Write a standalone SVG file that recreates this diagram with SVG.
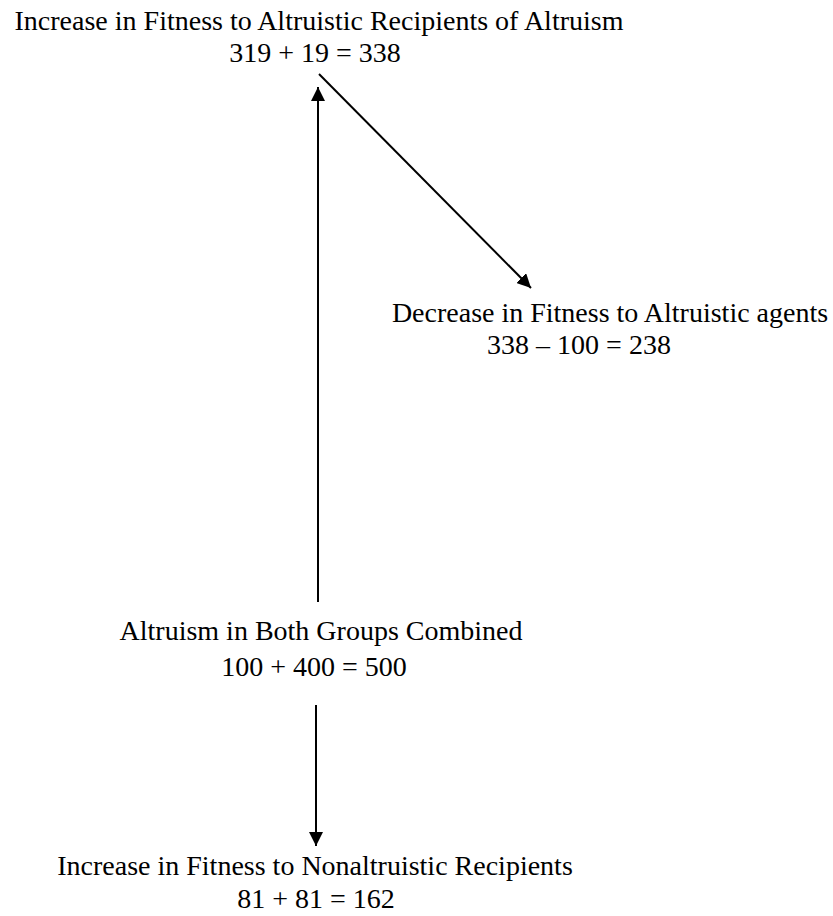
<svg xmlns="http://www.w3.org/2000/svg" width="833" height="916" viewBox="0 0 833 916">
<style>
text { font-family: "Liberation Serif", "Times New Roman", serif; font-size: 28px; fill: #000; text-anchor: middle; }
.conn { stroke: #000; stroke-width: 2; fill: none; }
</style>
<defs>
<marker id="ah" markerWidth="14" markerHeight="14" refX="14" refY="7" orient="auto" markerUnits="userSpaceOnUse">
<path d="M0,0 L14,7 L0,14 Z" fill="#000"/>
</marker>
</defs>
<rect width="833" height="916" fill="#fff"/>
<g id="node-altruistic-recipients">
<text x="319" y="30">Increase in Fitness to Altruistic Recipients of Altruism</text>
<text x="315" y="62">319 + 19 = 338</text>
</g>
<g id="node-altruistic-agents">
<text x="610" y="322">Decrease in Fitness to Altruistic agents</text>
<text x="579" y="354">338 – 100 = 238</text>
</g>
<g id="node-both-groups">
<text x="321" y="640">Altruism in Both Groups Combined</text>
<text x="314" y="676">100 + 400 = 500</text>
</g>
<g id="node-nonaltruistic">
<text x="315" y="875">Increase in Fitness to Nonaltruistic Recipients</text>
<text x="316" y="908">81 + 81 = 162</text>
</g>
<g id="connectors">
<line class="conn" x1="318" y1="602" x2="318" y2="87" marker-end="url(#ah)"/>
<line class="conn" x1="319" y1="74" x2="531" y2="288" marker-end="url(#ah)"/>
<line class="conn" x1="316" y1="705" x2="316" y2="846" marker-end="url(#ah)"/>
</g>
</svg>
